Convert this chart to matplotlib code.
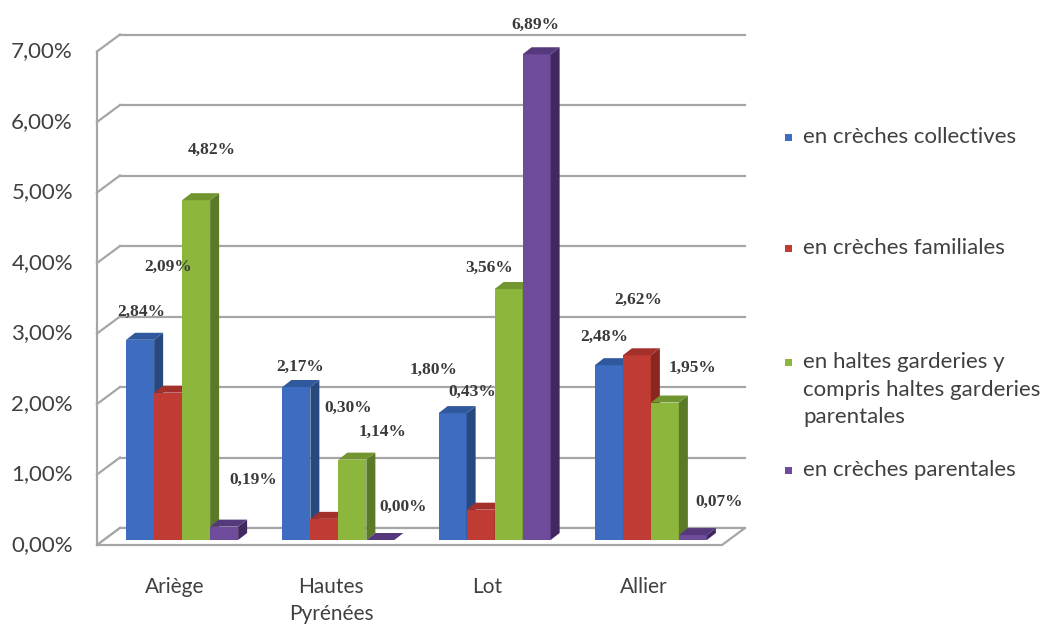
import matplotlib.pyplot as plt
from matplotlib.patches import Polygon, Rectangle

CATEGORIES = ["Ariège", "Hautes\nPyrénées", "Lot", "Allier"]
SERIES = ["en crèches collectives",
          "en crèches familiales",
          "en haltes garderies y\ncompris haltes garderies\nparentales",
          "en crèches parentales"]
COLLECTIVES = [2.84, 2.17, 1.80, 2.48]
FAMILIALES = [2.09, 0.30, 0.43, 2.62]
HALTES = [4.82, 1.14, 3.56, 1.95]
PARENTALES = [0.19, 0.00, 6.89, 0.07]
Y_TICKS = [0, 1, 2, 3, 4, 5, 6, 7]

FRONT = ["#3d6cc0", "#c03b33", "#8cb63c", "#6e4c9b"]
SIDE = ["#27497f", "#8a2620", "#5a7a27", "#41295f"]
TOP = ["#30589c", "#a3302a", "#73952f", "#56397c"]
GRID = "#a6a6a6"
TXT = "#404040"

# label offsets (pixels) from the top of each bar, as Excel placed them
LABEL_OFF = [
    [(1, 28), (4, 20), (-19, 43), (-5, 28)],
    [(0, 126), (24, 111), (-8, 118), (1, 55)],
    [(16, 50), (30, 28), (-20, 21), (28, 35)],
    [(29, 47), (23, 33), (-1, 29), (26, 33)],
]

W, H = 1043, 624
fig = plt.figure(figsize=(W / 100, H / 100), dpi=100)
ax_l, ax_b, ax_w, ax_h = 104, 84, 625, 493.5
ax = fig.add_axes([ax_l / W, ax_b / H, ax_w / W, ax_h / H])
ax.set_xlim(-0.5, 3.5)
ax.set_ylim(0, 7)
ax.set_axis_off()

PXX = ax_w / 4.0
PXY = ax_h / 7.0
BACK = (16, 12)
FRONT_OFF = (-7, -5)
DEPTH = (9, 7)


def off(x, y, o):
    return (x + o[0] / PXX, y + o[1] / PXY)


# back wall and side wall
x_lo, x_hi = -0.5, 3.5
for t in Y_TICKS:
    p0, p1 = off(x_lo, t, BACK), off(x_hi, t, BACK)
    ax.plot([p0[0], p1[0]], [p0[1], p1[1]], color=GRID, lw=1.6, clip_on=False, zorder=1)
    f = off(x_lo, t, FRONT_OFF)
    ax.plot([f[0], p0[0]], [f[1], p0[1]], color=GRID, lw=1.6, clip_on=False, zorder=1)
    ax.annotate(f"{t:.2f}%".replace(".", ","), xy=f, xytext=(-24, 0),
                textcoords="offset pixels", ha="right", va="center",
                fontsize=16, family="Lato", color=TXT, annotation_clip=False)

f0, f7 = off(x_lo, 0, FRONT_OFF), off(x_lo, 7, FRONT_OFF)
ax.plot([f0[0], f7[0]], [f0[1], f7[1]], color=GRID, lw=1.6, clip_on=False, zorder=1)

# floor
floor = [off(x_lo, 0, FRONT_OFF), off(x_hi, 0, FRONT_OFF), off(x_hi, 0, BACK), off(x_lo, 0, BACK)]
ax.add_patch(Polygon(floor, closed=True, facecolor="white", edgecolor=GRID, lw=1.6,
                     clip_on=False, zorder=1.5))

# bars
values = [COLLECTIVES, FAMILIALES, HALTES, PARENTALES]
bw = 28 / PXX
for i in range(len(CATEGORIES)):
    for j, vals in enumerate(values):
        v = vals[i]
        x0 = i - 2 * bw + j * bw
        z = 2 + i * 0.1 + j * 0.01
        ax.add_patch(Rectangle((x0, 0), bw, v, facecolor=FRONT[j], edgecolor="none",
                               clip_on=False, zorder=z))
        side = [(x0 + bw, 0), (x0 + bw, v), off(x0 + bw, v, DEPTH), off(x0 + bw, 0, DEPTH)]
        ax.add_patch(Polygon(side, closed=True, facecolor=SIDE[j], edgecolor="none",
                             clip_on=False, zorder=z))
        top = [(x0, v), (x0 + bw, v), off(x0 + bw, v, DEPTH), off(x0, v, DEPTH)]
        ax.add_patch(Polygon(top, closed=True, facecolor=TOP[j], edgecolor="none",
                             clip_on=False, zorder=z))

# data labels
for j, vals in enumerate(values):
    for i, v in enumerate(vals):
        x0 = i - 2 * bw + j * bw
        ax.annotate(f"{v:.2f}%".replace(".", ","), xy=(x0 + bw / 2, v),
                    xytext=LABEL_OFF[j][i], textcoords="offset pixels",
                    ha="center", va="center", fontsize=12.5, family="Liberation Serif",
                    fontweight="bold", color="#3a3a3a", zorder=10, annotation_clip=False)

# category labels
for i, cat in enumerate(CATEGORIES):
    ax.annotate(cat, xy=(i, 0), xytext=(-7, -37), textcoords="offset pixels",
                ha="center", va="top", fontsize=15, family="Lato", color=TXT,
                linespacing=1.45, annotation_clip=False)

# legend
leg_y = [137, 248, 362, 470]
for j, lab in enumerate(SERIES):
    yc = H - leg_y[j]
    fig.patches.append(Rectangle((785 / W, (yc - 4) / H), 7 / W, 7 / H, facecolor=FRONT[j],
                                 edgecolor="none", transform=fig.transFigure, figure=fig))
    for k, line in enumerate(lab.split("\n")):
        fig.text(803 / W, (yc - k * 27.5) / H, line, ha="left", va="center",
                 fontsize=16, family="Lato", color=TXT)

fig.savefig("out.png", dpi=100)
